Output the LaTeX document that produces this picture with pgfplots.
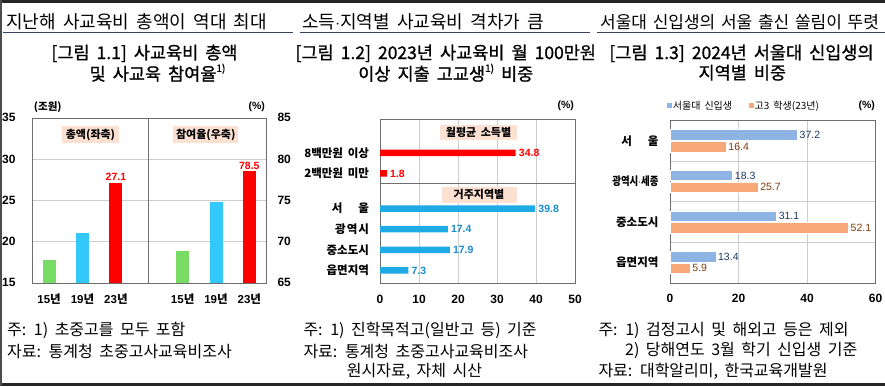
\documentclass[border=0pt]{standalone}
\usepackage{fontspec}
\setmainfont{Noto Sans CJK KR}[WordSpace=1.8]
\newfontfamily\krt{Noto Sans CJK KR}[WordSpace=1.8,FakeBold=1]
\newfontfamily\krh{Noto Sans CJK KR}[WordSpace=1.5]
\newfontfamily\ar{Liberation Sans}
\usepackage{pgfplots}
\pgfplotsset{compat=1.18}
\newcommand\fs[1]{\fontsize{#1}{#1}\selectfont}
\definecolor{hdr}{RGB}{55,65,95}
\definecolor{frame}{RGB}{110,110,110}
\definecolor{gridc}{RGB}{205,205,205}
\definecolor{g1}{RGB}{120,220,100}
\definecolor{b1}{RGB}{50,200,250}
\definecolor{r1}{RGB}{255,0,0}
\definecolor{peach}{RGB}{252,224,210}
\definecolor{b2}{RGB}{30,170,228}
\definecolor{b2t}{RGB}{25,140,205}
\definecolor{b3}{RGB}{141,180,226}
\definecolor{o3}{RGB}{248,168,120}
\definecolor{b3t}{RGB}{31,56,100}
\definecolor{o3t}{RGB}{130,60,15}
\pgfplotsset{base/.style={scale only axis, anchor=south west,
  axis line style={draw=frame}, major grid style={draw=gridc},
  major tick length=0pt, minor tick length=0pt, clip=false,
  /pgf/number format/assume math mode=true,
  tick label style={font=\ar\bfseries\fs{12}}}}
\begin{document}
\begin{tikzpicture}[x=1pt,y=1pt]
\path[use as bounding box] (0,0) rectangle (885,386);
\begin{scope}
\clip (0,0) rectangle (885,386);
\fill[white] (0,0) rectangle (885,386);
% frame bands
\fill[black!85] (0,383.3) rectangle (885,386);
\fill[black!85] (0,0) rectangle (885,2.7);
\fill[black!70] (0,0) rectangle (2,386);
% headers
\node[anchor=west, inner sep=0, font=\fs{18}] at (6,364.3) {지난해 사교육비 총액이 역대 최대};
\node[anchor=west, inner sep=0, font=\fs{18}] at (302,364.3) {소득$\cdot$지역별 사교육비 격차가 큼};
\node[anchor=west, inner sep=0, font=\krh\fs{17}] at (600,364.3) {서울대 신입생의 서울 출신 쏠림이 뚜렷};
\draw[hdr, line width=1.2pt] (3,353.2) -- (293,353.2);
\draw[hdr, line width=1.2pt] (300,353.2) -- (590,353.2);
\draw[hdr, line width=1.2pt] (597,353.2) -- (885,353.2);
% titles
\node[inner sep=0, font=\krt\fs{17.5}] at (144.5,332.7) {[그림 1.1] 사교육비 총액};
\node[inner sep=0, font=\krt\fs{17.5}] at (157.5,313.3) {및 사교육 참여율\raisebox{0.9ex}{\fs{10}1)}};
\node[inner sep=0, font=\krt\fs{17.5}] at (445.8,332.7) {[그림 1.2] 2023년 사교육비 월 100만원};
\node[inner sep=0, font=\krt\fs{17.5}] at (445.8,313.3) {이상 지출 고교생\raisebox{0.9ex}{\fs{10}1)} 비중};
\node[inner sep=0, font=\krt\fs{17.5}] at (741.5,332.7) {[그림 1.3] 2024년 서울대 신입생의};
\node[inner sep=0, font=\krt\fs{17.5}] at (742.3,313.3) {지역별 비중};
% footnotes
\node[anchor=west, inner sep=0, font=\fs{16}] at (7,56) {주: 1) 초중고를 모두 포함};
\node[anchor=west, inner sep=0, font=\fs{16}] at (7,34.3) {자료: 통계청 초중고사교육비조사};
\node[anchor=west, inner sep=0, font=\fs{16}] at (303.3,56) {주: 1) 진학목적고(일반고 등) 기준};
\node[anchor=west, inner sep=0, font=\fs{16}] at (303.3,34.3) {자료: 통계청 초중고사교육비조사};
\node[anchor=west, inner sep=0, font=\fs{16}] at (346.7,14.3) {원시자료, 자체 시산};
\node[anchor=west, inner sep=0, font=\fs{16}] at (598.3,56) {주: 1) 검정고시 및 해외고 등은 제외};
\node[anchor=west, inner sep=0, font=\fs{16}] at (625,36) {2) 당해연도 3월 학기 신입생 기준};
\node[anchor=west, inner sep=0, font=\fs{16}] at (598.3,14.3) {자료: 대학알리미, 한국교육개발원};

% ---------- panel 1 left
\begin{axis}[base, at={(32pt,103.3pt)}, width=116pt, height=165pt,
  xmin=-0.51, xmax=2.96, ymin=15, ymax=35, ytick={15,20,25,30,35}, ymajorgrids,
  xtick={0,1,2}, xticklabels={{\ar 15}년,{\ar 19}년,{\ar 23}년},
  xticklabel style={font=\bfseries\fs{11.5}, yshift=-8pt},
  yticklabel style={font=\ar\bfseries\fs{12}, xshift=-13pt}]
\addplot[ybar, bar width=13pt, bar shift=0pt, fill=g1, draw=none] coordinates {(0,17.8)};
\addplot[ybar, bar width=13pt, bar shift=0pt, fill=b1, draw=none] coordinates {(1,21.0)};
\addplot[ybar, bar width=13pt, bar shift=0pt, fill=r1, draw=none, nodes near coords,
  every node near coord/.append style={font=\ar\bfseries\fs{10.5}, text=r1, inner sep=2pt}] coordinates {(2,27.1)};
\end{axis}
% ---------- panel 1 right
\begin{axis}[base, at={(148pt,103.3pt)}, width=118pt, height=165pt,
  xmin=-1.04, xmax=2.5, ymin=65, ymax=85, ytick={65,70,75,80,85}, ymajorgrids,
  yticklabel pos=right,
  xtick={0,1,2}, xticklabels={{\ar 15}년,{\ar 19}년,{\ar 23}년},
  xticklabel style={font=\bfseries\fs{11.5}, yshift=-8pt},
  yticklabel style={font=\ar\bfseries\fs{12}, xshift=8pt}]
\addplot[ybar, bar width=13pt, bar shift=0pt, fill=g1, draw=none] coordinates {(0,68.8)};
\addplot[ybar, bar width=13pt, bar shift=0pt, fill=b1, draw=none] coordinates {(1,74.8)};
\addplot[ybar, bar width=13pt, bar shift=0pt, fill=r1, draw=none, nodes near coords,
  every node near coord/.append style={font=\ar\bfseries\fs{10.5}, text=r1, inner sep=2pt}] coordinates {(2,78.5)};
\end{axis}
\node[fill=peach, inner sep=0, minimum width=57.6pt, minimum height=17pt, font=\bfseries\fs{11}] at (90.5,251.3) {총액(좌축)};
\node[fill=peach, inner sep=0, minimum width=65pt, minimum height=17pt, font=\bfseries\fs{11}] at (205.8,251.3) {참여율(우축)};
\node[inner sep=0, font=\bfseries\fs{10.5}] at (47.8,278.7) {(조원)};
\node[inner sep=0, font=\ar\bfseries\fs{10.5}] at (256.7,279) {(\%)};

% ---------- panel 2
\begin{axis}[base, at={(380pt,102.7pt)}, width=195pt, height=164pt,
  xmin=0, xmax=50, ymin=-1.62, ymax=6.32, y dir=reverse,
  xtick={0,10,20,30,40,50}, xmajorgrids,
  xticklabel style={yshift=-8pt},
  ytick={0,1,2.7,3.7,4.7,5.7},
  yticklabels={8백만원 이상,2백만원 미만,서\hspace{16pt}울,광\hspace{1pt}역\hspace{1pt}시,중소도시,읍면지역},
  yticklabel style={font=\bfseries\fs{11.5}, xshift=-7.5pt}]
\addplot[xbar, bar width=6.5pt, bar shift=0pt, fill=r1, draw=none, nodes near coords,
  every node near coord/.append style={font=\ar\bfseries\fs{10.5}, text=r1, inner sep=3pt}]
  coordinates {(34.8,0) (1.8,1)};
\addplot[xbar, bar width=6.5pt, bar shift=0pt, fill=b2, draw=none, nodes near coords,
  every node near coord/.append style={font=\ar\bfseries\fs{10.5}, text=b2t, inner sep=3pt}]
  coordinates {(39.8,2.7) (17.4,3.7) (17.9,4.7) (7.3,5.7)};
\draw[frame] (axis cs:0,1.48) -- (axis cs:50,1.48);
\end{axis}
\node[fill=peach, inner sep=0, minimum width=76.7pt, minimum height=15pt, font=\bfseries\fs{11}] at (478.5,253.5) {월평균 소득별};
\node[fill=peach, inner sep=0, minimum width=75pt, minimum height=16pt, font=\bfseries\fs{11}] at (479,191.3) {거주지역별};
\node[inner sep=0, font=\ar\bfseries\fs{10.5}] at (565.8,280) {(\%)};

% ---------- panel 3
\begin{axis}[base, at={(670pt,103.3pt)}, width=205.5pt, height=162.2pt,
  xmin=0, xmax=60, ymin=-0.5, ymax=3.5, y dir=reverse,
  xtick={0,20,40,60}, xmajorgrids,
  xticklabel style={yshift=-8pt},
  ytick={0,1,2,3}, minor ytick={0.5,1.5,2.5}, yminorgrids, minor grid style={draw=gridc},
  yticklabels={서\hspace{16pt}울,{\scalebox{0.82}[1]{광역시$\cdot$세종}},중소도시,읍면지역},
  yticklabel style={font=\bfseries\fs{11.5}, xshift=-8pt}]
\addplot[xbar, bar width=10.5pt, bar shift=0pt, fill=b3, draw=white, line width=0.5pt, nodes near coords,
  every node near coord/.append style={font=\ar\fs{10.5}, text=b3t, inner sep=2pt}]
  coordinates {(37.2,-0.145) (18.3,0.855) (31.1,1.855) (13.4,2.855)};
\addplot[xbar, bar width=10.5pt, bar shift=0pt, fill=o3, draw=white, line width=0.5pt, nodes near coords,
  every node near coord/.append style={font=\ar\fs{10.5}, text=o3t, inner sep=2pt}]
  coordinates {(16.4,0.145) (25.7,1.145) (52.1,2.145) (5.9,3.145)};
\end{axis}
\fill[b3] (667.3,277.7) rectangle (672,282.7);
\node[anchor=west, inner sep=0, font=\fs{10}] at (672.7,280) {서울대 신입생};
\fill[o3] (749.3,277.7) rectangle (754,282.7);
\node[anchor=west, inner sep=0, font=\fs{10}] at (754.5,280) {고3 학생(23년)};
\node[inner sep=0, font=\ar\bfseries\fs{10.5}] at (866.7,280) {(\%)};
\end{scope}
\end{tikzpicture}
\end{document}
